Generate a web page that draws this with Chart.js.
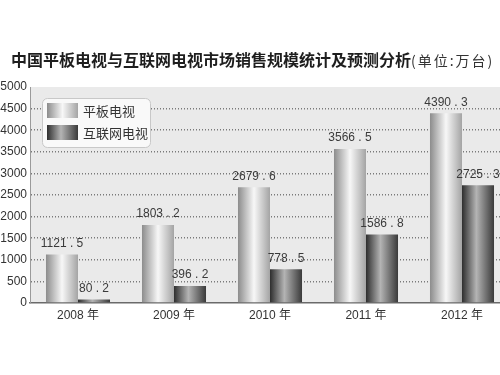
<!DOCTYPE html>
<html>
<head>
<meta charset="utf-8">
<script src="https://cdn.jsdelivr.net/npm/chart.js@4"></script>
<style>
  html, body { margin: 0; padding: 0; background: #fff; }
  #wrap { width: 500px; height: 375px; overflow: hidden; position: relative; }
  canvas { display: block; }
</style>
</head>
<body>
<div id="wrap">
  <canvas id="salesChart" width="510" height="375"></canvas>
</div>
<script>
// data
const years = ["2008 年", "2009 年", "2010 年", "2011 年", "2012 年"];
const flatTv = [1121.5, 1803.2, 2679.6, 3566.5, 4390.3];
const netTv = [80.2, 396.2, 778.5, 1586.8, 2725.3];
const seriesNames = ["平板电视", "互联网电视"];
const yTicks = [0, 500, 1000, 1500, 2000, 2500, 3000, 3500, 4000, 4500, 5000];

const titleMain = "中国平板电视与互联网电视市场销售规模统计及预测分析";
const titleUnit = "(单位:万台)";

const latin = '"Liberation Sans", Arial, "Noto Sans CJK SC", sans-serif';
const cjk = '"Noto Sans CJK SC", "Liberation Sans", sans-serif';

// cylinder look: light silver vs dark steel
const stopsFlat = [[0, "#8c8c8c"], [0.5, "#f7f7f7"], [1, "#a4a4a4"]];
const stopsNet = [[0, "#2e2e2e"], [0.45, "#b4b4b4"], [1, "#3a3a3a"]];

function makeGradient(g2d, x0, x1, stops) {
    let g = g2d.createLinearGradient(x0, 0, x1, 0);
    stops.forEach(s => g.addColorStop(s[0], s[1]));
    return g;
}

function barFill(stops, solid) {
    return function (ctx) {
        if (ctx.type !== "data") return solid;
        let xs = ctx.chart.scales.x;
        if (!xs || !xs.width) return solid;
        let center = xs.getPixelForValue(ctx.dataIndex);
        let barW = xs.width / years.length * 0.667 / 2;
        let left = ctx.datasetIndex === 0 ? center - barW : center;
        return makeGradient(ctx.chart.ctx, left, left + barW, stops);
    };
}

// plot background
const plotBg = {
    id: "plotBg",
    beforeDraw(chart) {
        let a = chart.chartArea, c = chart.ctx;
        c.save();
        c.fillStyle = "#eaeaea";
        c.fillRect(a.left, a.top, a.right - a.left, a.bottom - a.top);
        c.restore();
    }
};

// title, two fonts on one line
const titlePlugin = {
    id: "titlePlugin",
    afterDraw(chart) {
        let c = chart.ctx;
        c.save();
        c.textBaseline = "middle";
        c.textAlign = "left";
        c.fillStyle = "#1e1e1e";
        c.font = "bold 16px " + cjk;
        c.fillText(titleMain, 11, 60);
        let w = c.measureText(titleMain).width;
        c.font = "14px " + cjk;
        c.fillStyle = "#333";
        c.letterSpacing = "2px";
        c.fillText(titleUnit, 11 + w, 61);
        c.restore();
    }
};

// value labels over bars
const valueLabels = {
    id: "valueLabels",
    afterDatasetsDraw(chart) {
        let c = chart.ctx;
        c.save();
        c.font = "12px " + latin;
        c.fillStyle = "#3a3a3a";
        c.textAlign = "center";
        c.textBaseline = "middle";
        chart.data.datasets.forEach((ds, di) => {
            chart.getDatasetMeta(di).data.forEach((el, i) => {
                let txt = ds.data[i].toFixed(1).replace(".", " . ");
                c.fillText(txt, el.x, el.y - 11);
            });
        });
        c.restore();
    }
};

// legend box inside the plot
const boxLegend = {
    id: "boxLegend",
    afterDraw(chart) {
        let c = chart.ctx;
        c.save();
        c.beginPath();
        c.roundRect(42.5, 98.5, 108, 49, 5);
        c.fillStyle = "#f9f9f9";
        c.fill();
        c.strokeStyle = "#c8c8c8";
        c.lineWidth = 1;
        c.stroke();
        let rows = [[103, stopsFlat], [125, stopsNet]];
        rows.forEach((r, i) => {
            c.fillStyle = makeGradient(c, 47, 78, r[1]);
            c.fillRect(47, r[0], 31, 15);
            c.fillStyle = "#333";
            c.font = "13px " + cjk;
            c.textAlign = "left";
            c.textBaseline = "middle";
            c.fillText(seriesNames[i], 83, r[0] + 8);
        });
        c.restore();
    }
};

new Chart(document.getElementById("salesChart"), {
    type: "bar",
    data: {
        labels: years,
        datasets: [
            {
                label: seriesNames[0],
                data: flatTv,
                backgroundColor: barFill(stopsFlat, "#cccccc"),
                borderWidth: 0,
                categoryPercentage: 0.667,
                barPercentage: 1
            },
            {
                label: seriesNames[1],
                data: netTv,
                backgroundColor: barFill(stopsNet, "#555555"),
                borderWidth: 0,
                categoryPercentage: 0.667,
                barPercentage: 1
            }
        ]
    },
    options: {
        responsive: false,
        animation: false,
        devicePixelRatio: 1,
        layout: { padding: { top: 87, left: 0, right: 0, bottom: 0 } },
        plugins: {
            legend: { display: false },
            title: { display: false },
            tooltip: { enabled: false }
        },
        scales: {
            x: {
                grid: { display: false, drawTicks: false },
                border: { display: true, color: "#6a6a6a", width: 1.5 },
                ticks: { color: "#333", font: { size: 12, family: latin }, padding: 5 },
                afterFit(scale) { scale.height = 72; }
            },
            y: {
                min: 0,
                max: 5000,
                afterBuildTicks(scale) { scale.ticks = yTicks.map(v => ({ value: v })); },
                grid: {
                    drawTicks: false,
                    color: c => (c.tick.value === 0 || c.tick.value === 5000) ? "rgba(0,0,0,0)" : "#7a7a7a",
                    lineWidth: 1.5
                },
                border: { display: true, color: "#9a9a9a", width: 1, dash: [1, 2] },
                ticks: {
                    color: "#333",
                    font: { size: 12, family: latin },
                    padding: 3,
                    callback: v => String(v)
                },
                afterFit(scale) { scale.width = 30; }
            }
        }
    },
    plugins: [plotBg, valueLabels, boxLegend, titlePlugin]
});
</script>
</body>
</html>
